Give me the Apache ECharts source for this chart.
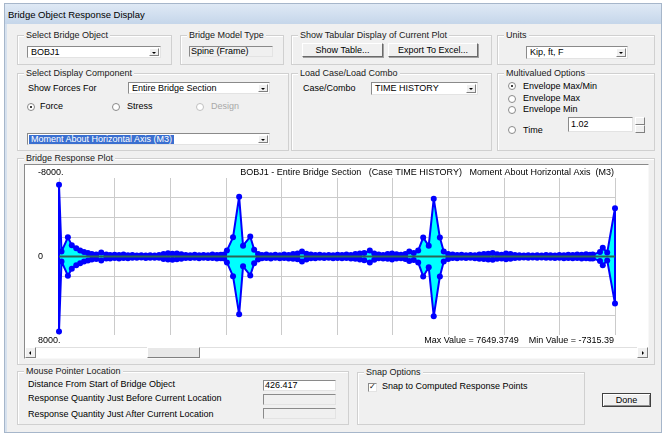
<!DOCTYPE html>
<html>
<head>
<meta charset="utf-8">
<script src="https://cdn.jsdelivr.net/npm/echarts@6/dist/echarts.min.js"></script>
<style>
html,body{margin:0;padding:0;width:665px;height:435px;overflow:hidden;background:#fff;
  font-family:"Liberation Sans",Arial,sans-serif;font-size:9px;color:#000;}
.abs{position:absolute;}
#frame{position:absolute;left:4px;top:3px;width:658px;height:430px;background:#d6e1ee;border:1px solid #a6b6ca;box-sizing:border-box;}
#titlebar{position:absolute;left:5px;top:4px;width:656px;height:20px;background:linear-gradient(#dfe9f5,#c5d6ea);}
#body{position:absolute;left:7px;top:24px;width:654px;height:408px;background:#f0f0f0;}
.t{position:absolute;white-space:nowrap;line-height:11px;}
.grp{position:absolute;border:1px solid #d0d0d0;box-shadow:inset 1px 1px 0 #fff;box-sizing:border-box;}
.grp .lbl{position:absolute;top:-6px;left:6px;background:#f0f0f0;padding:0 2px;line-height:11px;white-space:nowrap;color:#202020;}
.cmb{position:absolute;background:#fff;border:1px solid;border-color:#8a8a8a #e3e3e3 #e3e3e3 #8a8a8a;box-sizing:border-box;}
.cmb .v{position:absolute;left:3px;top:0;white-space:nowrap;}
.cmb .dd{position:absolute;right:1px;top:1px;bottom:1px;width:10px;background:#f0f0f0;border:1px solid;border-color:#fff #808080 #808080 #fff;box-sizing:border-box;}
.cmb .dd::after{content:'';position:absolute;left:2px;top:3px;border-left:2px solid transparent;border-right:2px solid transparent;border-top:2px solid #000;}
.box{position:absolute;border:1px solid;border-color:#8a8a8a #e3e3e3 #e3e3e3 #8a8a8a;box-sizing:border-box;}
.btn{position:absolute;background:#f0f0f0;border:1px solid;border-color:#fff #6a6a6a #6a6a6a #fff;box-shadow:1px 1px 0 #a0a0a0;box-sizing:border-box;text-align:center;white-space:nowrap;}
.rd{position:absolute;width:8px;height:8px;border-radius:50%;border:1px solid #8a8a8a;background:#fff;box-sizing:border-box;}
.rd.on::after{content:'';position:absolute;left:2px;top:2px;width:2px;height:2px;border-radius:50%;background:#000;}
.rd.off{border-color:#c0c0c0;}
#sunk{position:absolute;left:24px;top:164px;width:625px;height:195px;border:1px solid;border-color:#8a8a8a #f8f8f8 #f8f8f8 #8a8a8a;box-sizing:border-box;background:#fff;}
#chart{position:absolute;left:25px;top:165px;width:623px;height:181px;}
.sb{position:absolute;background:#f0f0f0;border:1px solid;border-color:#fff #808080 #808080 #fff;box-sizing:border-box;}
</style>
</head>
<body>
<div id="frame"></div>
<div id="titlebar"></div>
<div id="body"></div>
<div class="t" style="left:8px;top:9px;font-size:9.5px;">Bridge Object Response Display</div>

<!-- top row of groups -->
<div class="grp" style="left:17px;top:35px;width:155px;height:30px;"><span class="lbl">Select Bridge Object</span></div>
<div class="cmb" style="left:27px;top:46px;width:134px;height:12px;"><span class="v" style="line-height:10px;">BOBJ1</span><span class="dd"></span></div>

<div class="grp" style="left:180px;top:35px;width:104px;height:30px;"><span class="lbl">Bridge Model Type</span></div>
<div class="box" style="left:189px;top:46px;width:84px;height:11px;"><span class="t" style="left:1px;top:-1px;">Spine (Frame)</span></div>

<div class="grp" style="left:291px;top:35px;width:201px;height:30px;"><span class="lbl">Show Tabular Display of Current Plot</span></div>
<div class="btn" style="left:302px;top:43px;width:81px;height:14px;line-height:12px;">Show Table...</div>
<div class="btn" style="left:388px;top:43px;width:90px;height:14px;line-height:12px;">Export To Excel...</div>

<div class="grp" style="left:497px;top:35px;width:158px;height:30px;"><span class="lbl">Units</span></div>
<div class="cmb" style="left:526px;top:46px;width:102px;height:13px;"><span class="v" style="line-height:11px;">Kip, ft, F</span><span class="dd"></span></div>

<!-- second row of groups -->
<div class="grp" style="left:17px;top:73px;width:272px;height:78px;"><span class="lbl">Select Display Component</span></div>
<div class="t" style="left:28px;top:83px;">Show Forces For</div>
<div class="cmb" style="left:128px;top:82px;width:142px;height:12px;"><span class="v" style="line-height:10px;">Entire Bridge Section</span><span class="dd"></span></div>
<div class="rd on" style="left:27px;top:103px;"></div><div class="t" style="left:40px;top:101px;">Force</div>
<div class="rd" style="left:112px;top:103px;"></div><div class="t" style="left:127px;top:101px;">Stress</div>
<div class="rd off" style="left:196px;top:103px;"></div><div class="t" style="left:211px;top:101px;color:#a8a8a8;">Design</div>
<div class="cmb" style="left:27px;top:133px;width:243px;height:12px;"><span class="v" style="left:1px;top:1px;line-height:9px;background:#3a6fd0;color:#fff;padding:0 2px;">Moment About Horizontal Axis  (M3)</span><span class="dd"></span></div>

<div class="grp" style="left:291px;top:73px;width:201px;height:78px;"><span class="lbl">Load Case/Load Combo</span></div>
<div class="t" style="left:303px;top:83px;">Case/Combo</div>
<div class="cmb" style="left:371px;top:82px;width:107px;height:13px;"><span class="v" style="line-height:11px;">TIME HISTORY</span><span class="dd"></span></div>

<div class="grp" style="left:497px;top:73px;width:158px;height:78px;"><span class="lbl">Multivalued Options</span></div>
<div class="rd on" style="left:508px;top:82px;"></div><div class="t" style="left:523px;top:81px;">Envelope Max/Min</div>
<div class="rd" style="left:508px;top:95px;"></div><div class="t" style="left:523px;top:93px;">Envelope Max</div>
<div class="rd" style="left:508px;top:106px;"></div><div class="t" style="left:523px;top:104px;">Envelope Min</div>
<div class="rd" style="left:508px;top:126px;"></div><div class="t" style="left:523px;top:125px;">Time</div>
<div class="box" style="left:568px;top:117px;width:65px;height:15px;background:#fff;"><span class="t" style="left:2px;top:1px;">1.02</span></div>
<div class="sb" style="left:635px;top:117px;width:10px;height:8px;"></div>
<div class="sb" style="left:635px;top:125px;width:10px;height:8px;"></div>

<!-- response plot -->
<div class="grp" style="left:17px;top:158px;width:638px;height:207px;"><span class="lbl">Bridge Response Plot</span></div>
<div id="sunk"></div>
<div id="chart"></div>
<div class="abs" style="left:25px;top:347px;width:623px;height:11px;background:#fff;border-top:1px solid #e0e0e0;box-sizing:border-box;"></div>
<div class="sb" style="left:25px;top:347px;width:11px;height:11px;"><span class="abs" style="left:3px;top:3px;border-top:2px solid transparent;border-bottom:2px solid transparent;border-right:2px solid #000;"></span></div>
<div class="sb" style="left:147px;top:347px;width:53px;height:11px;background:#e8e8e8;"></div>
<div class="sb" style="left:637px;top:347px;width:11px;height:11px;"><span class="abs" style="left:4px;top:3px;border-top:2px solid transparent;border-bottom:2px solid transparent;border-left:2px solid #000;"></span></div>

<!-- bottom row -->
<div class="grp" style="left:17px;top:371px;width:332px;height:54px;"><span class="lbl">Mouse Pointer Location</span></div>
<div class="t" style="left:28px;top:379px;">Distance From Start of Bridge Object</div>
<div class="box" style="left:263px;top:380px;width:73px;height:11px;background:#fff;"><span class="t" style="left:1px;top:-1px;">426.417</span></div>
<div class="t" style="left:28px;top:393px;">Response Quantity Just Before Current Location</div>
<div class="box" style="left:263px;top:394px;width:73px;height:11px;"></div>
<div class="t" style="left:28px;top:409px;">Response Quantity Just After Current Location</div>
<div class="box" style="left:263px;top:408px;width:73px;height:11px;"></div>

<div class="grp" style="left:357px;top:372px;width:228px;height:53px;"><span class="lbl">Snap Options</span></div>
<div class="box" style="left:368px;top:383px;width:9px;height:9px;background:#fff;"><span class="t" style="left:0px;top:-3px;font-size:8px;">&#10003;</span></div>
<div class="t" style="left:382px;top:381px;">Snap to Computed Response Points</div>

<div class="btn" style="left:602px;top:393px;width:49px;height:14px;line-height:12px;border:1px solid #404040;box-shadow:inset 1px 1px 0 #fff, inset -1px -1px 0 #909090;">Done</div>

<script>
// Stations along the bridge object (distance units) and the envelope moment at each.
const stations = [
  0, 4.5, 16, 23, 31, 38, 45, 52, 59, 67, 76, 85, 92,
  100, 108, 116, 124, 132, 140, 148, 156, 164, 172, 180, 188, 196, 204, 212, 220, 228, 236, 244, 252, 260, 268, 276, 284, 291,
  297, 302, 313, 324, 331, 344, 351, 358,
  365, 373, 381, 389, 397, 405, 413, 421, 429, 437, 445, 453, 461, 469, 477, 485, 493, 501, 509, 517, 525, 533, 541, 549, 559, 567, 575, 583, 591, 599, 607, 615, 623, 630,
  638, 646, 655, 665, 674, 685, 692, 700,
  708, 716, 724, 732, 740, 748, 756, 764, 772, 780, 788, 796, 804, 812, 820, 828, 836, 844, 852, 860, 868, 876, 884, 892, 900, 908, 916, 924, 932, 940, 948, 955,
  960, 973, 978, 986, 1000
];

const envelopeMax = [
  7649.3749, 500, 1950, 1250, 900, 700, 500, 400, 300, 250, 400, 200, 200,
  150, 200, 150, 180, 120, 140, 100, 150, 120, 140, 130, 260, 300, 320, 280, 240, 160, 150, 140, 170, 130, 160, 150, 200, 170,
  200, 600, 2000, 5890, 1000, 1930, 700, 300,
  180, 150, 200, 140, 170, 150, 200, 220, 280, 500, 300, 180, 170, 140, 160, 130, 170, 150, 180, 160, 200, 220, 300, 380, 600, 320, 180, 200, 220, 300, 200, 170, 260, 450,
  350, 600, 2030, 1100, 6090, 2030, 500, 250,
  150, 180, 140, 160, 120, 170, 220, 260, 300, 330, 240, 200, 280, 220, 150, 130, 110, 120, 100, 130, 110, 140, 120, 150, 130, 170, 150, 190, 160, 200, 180, 210,
  200, 450, 900, 400, 4800
];

const envelopeMin = [
  -7315.39, -500, -1950, -1150, -850, -600, -450, -350, -250, -200, -400, -200, -150,
  -180, -150, -200, -120, -160, -100, -140, -90, -130, -110, -150, -250, -320, -280, -300, -220, -150, -120, -180, -140, -160, -120, -200, -150, -180,
  -200, -600, -1950, -6090, -1100, -2030, -700, -250,
  -150, -200, -120, -180, -140, -200, -160, -250, -300, -500, -280, -200, -150, -180, -120, -160, -140, -180, -150, -200, -160, -250, -300, -350, -600, -300, -200, -160, -250, -300, -220, -180, -250, -500,
  -350, -600, -1930, -1100, -5890, -1930, -500, -250,
  -200, -150, -180, -120, -160, -140, -200, -250, -280, -350, -220, -180, -300, -250, -160, -120, -100, -140, -90, -120, -100, -150, -130, -110, -160, -140, -180, -150, -200, -170, -220, -180,
  -200, -450, -900, -400, -4920
];

const yTickValues = [-8000, 0, 8000];
const yTickLabels = ['-8000.', '0', '8000.'];
const plotTitle = 'BOBJ1 - Entire Bridge Section   (Case TIME HISTORY)   Moment About Horizontal Axis  (M3)';

const maxPts = stations.map((d, i) => [d, envelopeMax[i]]);
const minPts = stations.map((d, i) => [d, envelopeMin[i]]);
const first = 0, last = stations.length - 1;
const maxValue = Math.max(...envelopeMax);
const minValue = Math.min(...envelopeMin);
const statText = 'Max Value = ' + maxValue + '    Min Value = ' + minValue;

const FONT = '"Liberation Sans", Arial, sans-serif';
const BLUE = '#0000ff';

const envelopeSeries = (name, pts) => ({
  type: 'line', name, data: pts,
  symbol: 'circle', symbolSize: 6, showSymbol: true,
  lineStyle: { color: BLUE, width: 2 },
  itemStyle: { color: BLUE },
  areaStyle: { color: '#00ffff', opacity: 1 },
  z: 3
});

const closingSeries = (i) => ({
  type: 'line', data: [[stations[i], envelopeMin[i]], [stations[i], envelopeMax[i]]],
  symbol: 'none', lineStyle: { color: BLUE, width: 2 }, z: 4, silent: true
});

const chart = echarts.init(document.getElementById('chart'), null, { renderer: 'canvas' });
chart.setOption({
  animation: false,
  textStyle: { fontFamily: FONT },
  title: [
    { text: plotTitle, right: 34, top: 3, padding: 0,
      textStyle: { fontSize: 9, fontWeight: 'normal', color: '#000', fontFamily: FONT } },
    { text: statText, right: 34, top: 171, padding: 0,
      textStyle: { fontSize: 9, fontWeight: 'normal', color: '#000', fontFamily: FONT } }
  ],
  grid: { left: 34, right: 33, top: 13, bottom: 11 },
  xAxis: {
    type: 'value', min: stations[first], max: stations[last], interval: 100,
    axisLine: { show: false }, axisTick: { show: false }, axisLabel: { show: false },
    splitLine: { show: true, lineStyle: { color: '#cbcbcb', width: 1 } }
  },
  yAxis: {
    type: 'value', inverse: true, min: -8000, max: 8000, interval: 2000,
    axisLine: { show: false }, axisTick: { show: false },
    splitLine: { show: true, showMinLine: false, showMaxLine: false, lineStyle: { color: '#cbcbcb', width: 1 } },
    axisLabel: {
      show: true, align: 'left', margin: 21, fontSize: 9, lineHeight: 11, color: '#000', fontFamily: FONT,
      formatter: (v) => {
        const k = yTickValues.indexOf(v);
        if (k < 0) return '';
        if (k === 0) return yTickLabels[k] + '\n';
        if (k === yTickValues.length - 1) return '\n' + yTickLabels[k];
        return yTickLabels[k];
      }
    }
  },
  series: [
    envelopeSeries('Envelope Min', minPts),
    envelopeSeries('Envelope Max', maxPts),
    closingSeries(first),
    closingSeries(last),
    { type: 'line', data: [[stations[first], 0], [stations[last], 0]], symbol: 'none',
      lineStyle: { color: '#2a6655', width: 2 }, z: 6, silent: true }
  ]
});
</script>
</body>
</html>
